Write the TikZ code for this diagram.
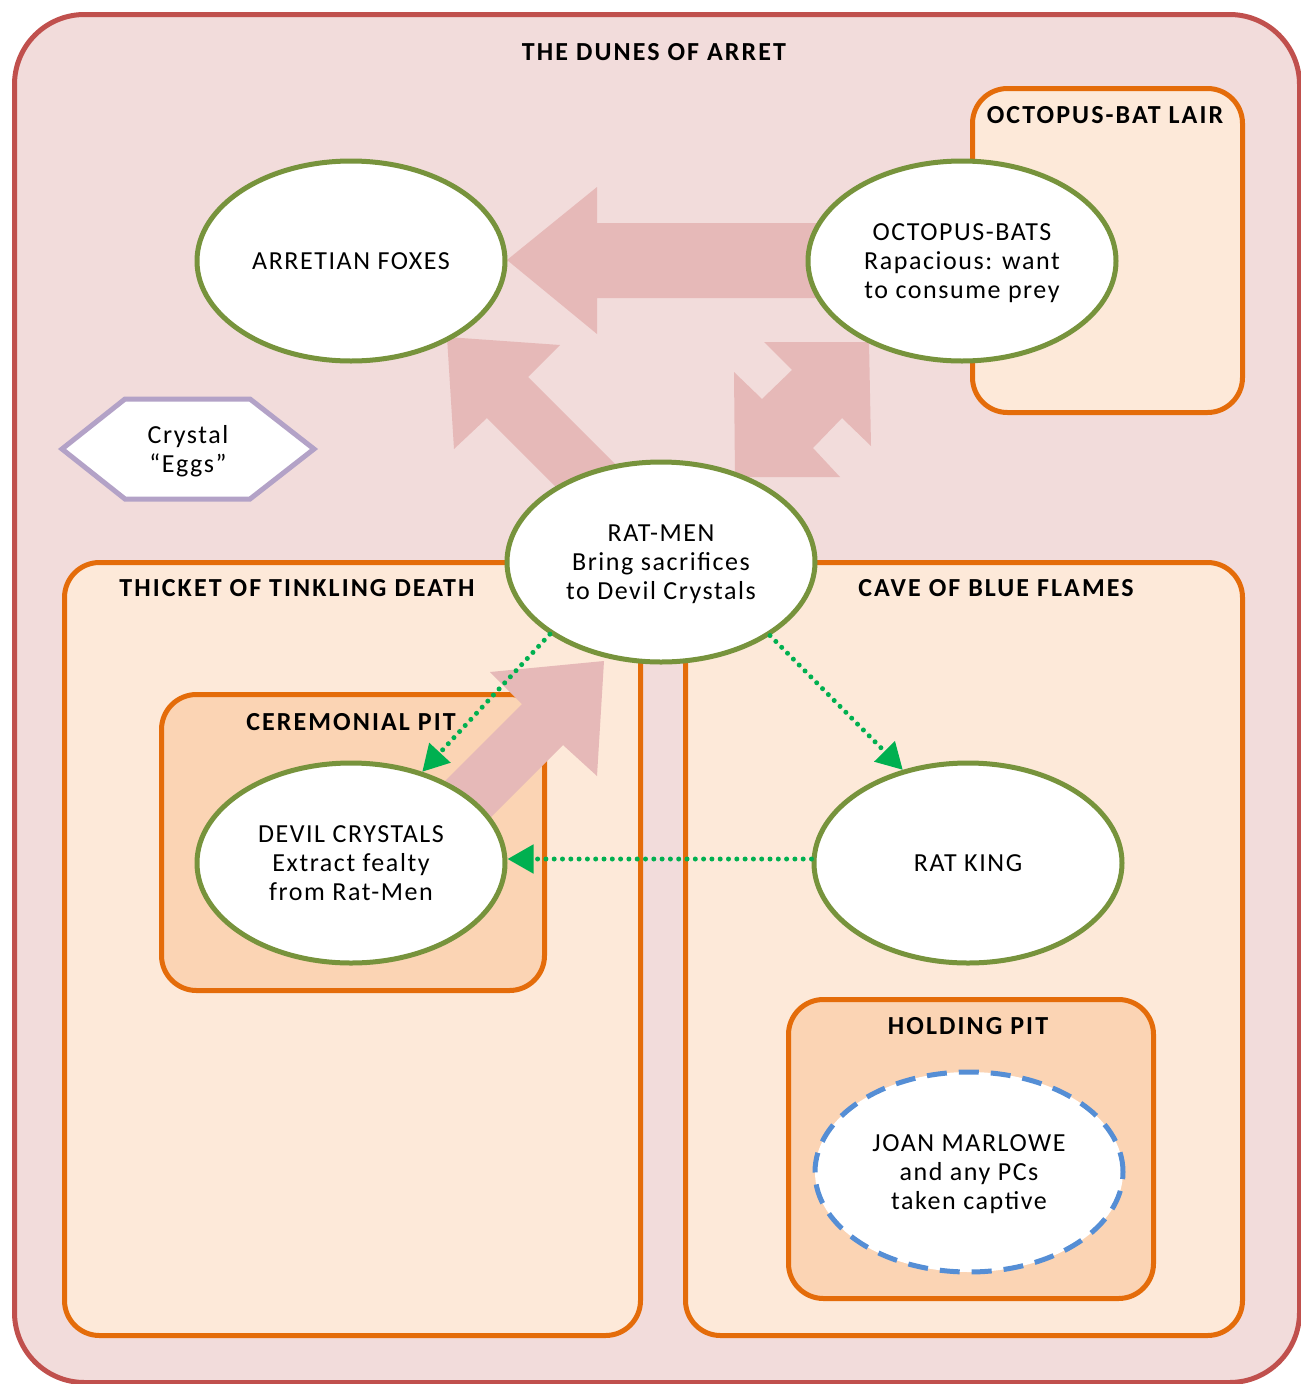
\documentclass[tikz,border=0pt]{standalone}
\usepackage{fontspec}
\setmainfont{Carlito}[LetterSpace=6, BoldFeatures={LetterSpace=8}]
\usetikzlibrary{shapes.geometric,arrows.meta}

\definecolor{dunefill}{HTML}{F2DCDB}
\definecolor{duneline}{HTML}{C0504D}
\definecolor{zonefill}{HTML}{FDE9D9}
\definecolor{pitfill}{HTML}{FBD4B4}
\definecolor{zoneline}{HTML}{E46C0A}
\definecolor{flowfill}{HTML}{E6B9B8}
\definecolor{actorline}{HTML}{77933C}
\definecolor{linkgreen}{HTML}{00B050}
\definecolor{eggline}{HTML}{B3A2C7}
\definecolor{captiveline}{HTML}{558ED5}

\newcommand{\bodytext}{\fontsize{26}{29}\selectfont}
\newcommand{\headtext}{\fontsize{26}{29}\selectfont\bfseries}

\begin{document}
\begin{tikzpicture}[x=1pt,y=-1pt,
  region/.style={draw=zoneline, fill=zonefill, line width=5pt, rounded corners=35pt,
    anchor=north west, inner sep=0pt},
  pitzone/.style={region, fill=pitfill},
  heading/.style={font=\headtext, anchor=base, inner sep=0pt},
  label text/.style={font=\bodytext, align=center},
  actor/.style={ellipse, draw=actorline, fill=white, line width=5pt,
    minimum width=308pt, minimum height=200pt, inner sep=0pt, label text,
    text depth=-8pt},
  flow/.style={fill=flowfill},
  link/.style={draw=linkgreen, line width=5pt, line cap=round,
    dash pattern=on 0pt off 8.3pt,
    -{Triangle[length=26pt,width=28pt]}},
]
\useasboundingbox (0,0) rectangle (1301,1384);

% the dunes
\node[draw=duneline, fill=dunefill, line width=5pt, rounded corners=70pt,
  anchor=north west, inner sep=0pt, minimum width=1285pt, minimum height=1368pt]
  (dunes) at (12,12) {};
\node[heading] (dunestitle) at (654,60) {THE DUNES OF ARRET};

% locations
\node[region, minimum width=270pt, minimum height=324pt] (lair) at (970,86) {};
\node[heading] (lairtitle) at (1105,123) {OCTOPUS-BAT LAIR};

\node[region, minimum width=576pt, minimum height=773pt] (thicket) at (62,560) {};
\node[heading] (thickettitle) at (297,596) {THICKET OF TINKLING DEATH};

\node[region, minimum width=557pt, minimum height=773pt] (cave) at (683,560) {};
\node[heading] (cavetitle) at (996,596) {CAVE OF BLUE FLAMES};

\node[pitzone, minimum width=383pt, minimum height=296pt] (ceremonial) at (159,692) {};
\node[heading] (ceremonialtitle) at (351,730) {CEREMONIAL PIT};

\node[pitzone, minimum width=365pt, minimum height=299pt] (holding) at (786,997) {};
\node[heading] (holdingtitle) at (968,1034) {HOLDING PIT};

% influence arrows
\fill[flow] (507,260) -- (597,187) -- (597,223) -- (830,223) -- (830,298)
  -- (597,298) -- (597,334) -- cycle;
\fill[flow] (447,337) -- (560,345) -- (528,377) -- (638,487) -- (597,528)
  -- (487,418) -- (454,449) -- cycle;
\fill[flow] (869,342) -- (871,446) -- (842,418) -- (813,448) -- (840,477)
  -- (735,477) -- (734,372) -- (762,399) -- (792,370) -- (764,342) -- cycle;
\fill[flow] (604,661) -- (597,776) -- (563,745) -- (463,845) -- (422,804)
  -- (522,704) -- (490,672) -- cycle;

% the crystal eggs
\draw[draw=eggline, fill=white, line width=5pt, line join=miter]
  (62,449) -- (125,399) -- (250,399) -- (314,449) -- (250,499) -- (125,499) -- cycle;
\node[label text] (eggs) at (188,451) {Crystal\\“Eggs”};

% creatures
\node[actor] (foxes) at (351,261) {ARRETIAN FOXES};
\node[actor] (bats) at (962,261) {OCTOPUS-BATS\\Rapacious: want\\to consume prey};
\node[actor] (ratmen) at (661,562) {RAT-MEN\\Bring sacrifices\\to Devil Crystals};
\node[actor] (devil) at (351,863) {DEVIL CRYSTALS\\Extract fealty\\from Rat-Men};
\node[actor] (ratking) at (968,863) {RAT KING};
\node[actor, draw=captiveline, dash pattern=on 20pt off 12pt] (captive) at (969,1172)
  {JOAN MARLOWE\\and any PCs\\taken captive};

% loyalties
\draw[link] (ratmen.213) -- (devil.52);
\draw[link] (ratmen.326) -- (ratking.125);
\draw[link] ([yshift=4pt]ratking.west) -- ([yshift=4pt]devil.east);
\end{tikzpicture}
\end{document}
